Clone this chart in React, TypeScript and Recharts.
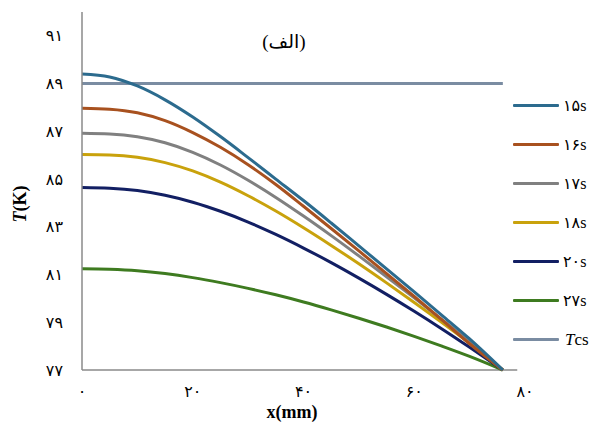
import React from 'react';
import {
  LineChart,
  Line,
  XAxis,
  YAxis,
  ReferenceLine
} from 'recharts';

// positions along the rod (mm)
const xs = [0, 5, 10, 15, 20, 25, 30, 35, 40, 45, 50, 55, 60, 65, 70, 76];

// temperature profiles (K)
const t15 = [89.4, 89.28, 88.9, 88.32, 87.6, 86.78, 85.9, 85.0, 84.1, 83.16, 82.2, 81.24, 80.27, 79.29, 78.3, 77];
const t16 = [87.97, 87.93, 87.78, 87.45, 86.95, 86.33, 85.6, 84.77, 83.86, 82.93, 81.99, 81.04, 80.08, 79.1, 78.1, 77];
const t17 = [86.92, 86.89, 86.77, 86.52, 86.12, 85.59, 84.95, 84.23, 83.45, 82.63, 81.78, 80.91, 80.02, 79.11, 78.18, 77];
const t18 = [86.03, 86.01, 85.91, 85.69, 85.34, 84.87, 84.3, 83.66, 82.96, 82.22, 81.45, 80.65, 79.83, 78.99, 78.12, 77];
const t20 = [84.65, 84.62, 84.52, 84.32, 84.03, 83.65, 83.2, 82.68, 82.11, 81.5, 80.85, 80.17, 79.46, 78.72, 77.95, 77];
const t27 = [81.24, 81.22, 81.16, 81.04, 80.87, 80.66, 80.42, 80.15, 79.85, 79.52, 79.17, 78.8, 78.41, 78.0, 77.57, 77];
const tcs = 89;

const xTicks = [0, 20, 40, 60, 80];
const yTicks = [77, 79, 81, 83, 85, 87, 89, 91];

const SERIES = [
  { key: 's15', label: '۱۵s', color: '#2C6B8E', values: t15 },
  { key: 's16', label: '۱۶s', color: '#A8511F', values: t16 },
  { key: 's17', label: '۱۷s', color: '#808080', values: t17 },
  { key: 's18', label: '۱۸s', color: '#C9A20C', values: t18 },
  { key: 's20', label: '۲۰s', color: '#121F63', values: t20 },
  { key: 's27', label: '۲۷s', color: '#3E7B20', values: t27 }
];
const TCS_COLOR = '#7A8CA2';

const data = xs.map((x, i) => {
  const row: any = { x, tcs };
  SERIES.forEach((s) => { row[s.key] = s.values[i]; });
  return row;
});

const FA_DIGITS = ['۰', '۱', '۲', '۳', '۴', '۵', '۶', '۷', '۸', '۹'];
const toFa = (n: number) => String(n).split('').map((c) => FA_DIGITS[+c] ?? c).join('');

const FONT = '"Liberation Serif", "DejaVu Sans", serif';

const XTick = ({ x, y, payload }: any) => (
  <text x={x} y={y} textAnchor="middle" fontSize={16} fill="#000" fontFamily={FONT} dy="0.71em">
    {toFa(payload.value)}
  </text>
);

const YTick = ({ x, y, payload }: any) => (
  <text x={x} y={y} textAnchor="end" fontSize={16} fill="#000" fontFamily={FONT} dy="0.35em">
    {toFa(payload.value)}
  </text>
);

const YTitle = ({ viewBox }: any) => {
  const cx = viewBox.x + 26;
  const cy = viewBox.y + 192;
  return (
    <text
      x={cx}
      y={cy}
      transform={`rotate(-90 ${cx} ${cy})`}
      textAnchor="middle"
      fontSize={18}
      fontWeight="bold"
      fontFamily={FONT}
      fill="#000"
    >
      <tspan fontStyle="italic">T</tspan>(K)
    </text>
  );
};

const XTitle = ({ viewBox }: any) => (
  <text
    x={viewBox.x + 210}
    y={viewBox.y + 48}
    textAnchor="middle"
    fontSize={18}
    fontWeight="bold"
    fontFamily={FONT}
    fill="#000"
  >
    x(mm)
  </text>
);

export default function App() {
  return (
    <div style={{ position: 'absolute', left: 0, top: 0, width: 603, height: 427, background: '#fff' }}>
      <LineChart
        width={603}
        height={427}
        data={data}
        margin={{ top: 12, right: 78, left: 0, bottom: 0 }}
      >
        <XAxis
          dataKey="x"
          type="number"
          domain={[0, 80]}
          ticks={xTicks}
          tick={<XTick />}
          tickLine={false}
          tickSize={0}
          tickMargin={16}
          axisLine={false}
          height={57}
          label={<XTitle />}
        />
        <YAxis
          type="number"
          domain={[77, 92]}
          ticks={yTicks}
          tick={<YTick />}
          tickLine={false}
          tickSize={0}
          tickMargin={19}
          width={82}
          axisLine={{ stroke: '#8A8A8A', strokeWidth: 1.5 }}
          label={<YTitle />}
        />
        <ReferenceLine
          segment={[{ x: 0, y: 77 }, { x: 78.6, y: 77 }]}
          stroke="#8A8A8A"
          strokeWidth={1.5}
        />
        <Line
          dataKey="tcs"
          type="linear"
          stroke={TCS_COLOR}
          strokeWidth={3}
          dot={false}
          isAnimationActive={false}
        />
        {SERIES.slice().reverse().map((s) => (
          <Line
            key={s.key}
            dataKey={s.key}
            type="monotone"
            stroke={s.color}
            strokeWidth={3}
            dot={false}
            isAnimationActive={false}
          />
        ))}
      </LineChart>

      {/* panel title */}
      <div
        style={{
          position: 'absolute',
          left: 234,
          top: 30,
          width: 100,
          textAlign: 'center',
          fontFamily: FONT,
          fontSize: 19,
          direction: 'rtl'
        }}
      >
        (الف)
      </div>

      {/* legend */}
      <div style={{ position: 'absolute', left: 513, top: 86, fontFamily: FONT }}>
        {SERIES.map((s) => (
          <div key={s.key} style={{ display: 'flex', alignItems: 'center', height: 39 }}>
            <div style={{ width: 46, height: 3, background: s.color, borderRadius: 1 }} />
            <span style={{ marginLeft: 4, fontSize: 16 }}>{s.label}</span>
          </div>
        ))}
        <div style={{ display: 'flex', alignItems: 'center', height: 39 }}>
          <div style={{ width: 46, height: 3, background: TCS_COLOR, borderRadius: 1 }} />
          <span style={{ marginLeft: 6, fontSize: 17 }}>
            <i>T</i>cs
          </span>
        </div>
      </div>
    </div>
  );
}
